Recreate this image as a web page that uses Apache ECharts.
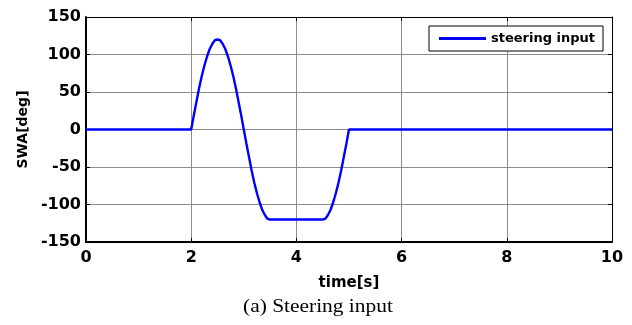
<!DOCTYPE html>
<html><head><meta charset="utf-8">
<script src="https://cdn.jsdelivr.net/npm/echarts@6/dist/echarts.min.js"></script>
<style>html,body{margin:0;padding:0;background:#fff}#c{width:632px;height:325px}</style>
</head><body><div id="c"></div>
<script>
var time = [0, 1, 2,
  2.05, 2.1, 2.15, 2.2, 2.25, 2.3, 2.35, 2.4, 2.45, 2.5,
  2.55, 2.6, 2.65, 2.7, 2.75, 2.8, 2.85, 2.9, 2.95, 3.0,
  3.05, 3.1, 3.15, 3.2, 3.25, 3.3, 3.35, 3.4, 3.45, 3.5,
  4.0, 4.5,
  4.55, 4.6, 4.65, 4.7, 4.75, 4.8, 4.85, 4.9, 4.95, 5.0,
  6, 8, 10];
var swa = [0, 0, 0,
  19, 37, 55, 71, 85, 97, 107, 114, 119, 120,
  119, 114, 107, 97, 85, 71, 55, 37, 19, 0,
  -19, -37, -55, -71, -85, -97, -107, -114, -119, -120,
  -120, -120,
  -119, -114, -107, -97, -85, -71, -55, -37, -19, 0,
  0, 0, 0];
var xTicks = [0, 2, 4, 6, 8, 10];
var yTicks = [-150, -100, -50, 0, 50, 100, 150];
var seriesName = 'steering input';
var xTitle = 'time[s]';
var yTitle = 'SWA[deg]';
var caption = '(a) Steering input';

var chart = echarts.init(document.getElementById('c'));
var fnt = '"DejaVu Sans", sans-serif';
function axis(extra) {
  return Object.assign({
    type: 'value',
    axisLine: {show: true, onZero: false, lineStyle: {color: '#000', width: 1}},
    axisTick: {show: true, inside: true, length: 4, lineStyle: {color: '#000'}},
    axisLabel: {show: false},
    splitLine: {show: false}
  }, extra);
}
var option = {
  animation: false,
  grid: {left: 86, right: 20, top: 17, bottom: 83, containLabel: false},
  legend: {
    data: [seriesName], left: 429, top: 26,
    backgroundColor: '#fff', borderColor: '#000', borderWidth: 1, borderRadius: 0,
    padding: [6, 8, 6, 10], itemWidth: 47, itemHeight: 3, icon: 'rect', itemGap: 5,
    textStyle: {fontFamily: fnt, fontWeight: 'bold', fontSize: 13, color: '#000'}
  },
  xAxis: [
    axis({
      min: 0, max: 10, interval: 2, position: 'bottom',
      axisLine: {show: true, onZero: false, lineStyle: {color: '#000', width: 2}},
      name: xTitle, nameLocation: 'middle', nameGap: 34,
      nameTextStyle: {fontFamily: fnt, fontWeight: 'bold', fontSize: 15, color: '#000'},
      axisLabel: {show: true, fontFamily: fnt, fontWeight: 'bold', fontSize: 16, color: '#000', margin: 8,
        formatter: function (v) { return xTicks.indexOf(v) >= 0 ? String(v) : ''; }},
      splitLine: {show: true, lineStyle: {color: '#8c8c8c', width: 1}}
    }),
    axis({min: 0, max: 10, interval: 2, position: 'top'})
  ],
  yAxis: [
    axis({
      min: -150, max: 150, interval: 50, position: 'left',
      axisLine: {show: true, onZero: false, lineStyle: {color: '#000', width: 2}},
      name: yTitle, nameLocation: 'middle', nameGap: 56,
      nameTextStyle: {fontFamily: fnt, fontWeight: 'bold', fontSize: 14, color: '#000'},
      axisLabel: {show: true, fontFamily: fnt, fontWeight: 'bold', fontSize: 16, color: '#000', margin: 5,
        formatter: function (v) { return yTicks.indexOf(v) >= 0 ? String(v) : ''; }},
      splitLine: {show: true, lineStyle: {color: '#8c8c8c', width: 1}}
    }),
    axis({min: -150, max: 150, interval: 50, position: 'right'})
  ],
  series: [{
    name: seriesName, type: 'line', showSymbol: false, smooth: false,
    lineStyle: {color: '#0000ff', width: 2.4}, itemStyle: {color: '#0000ff'},
    data: time.map(function (t, i) { return [t, swa[i]]; })
  }],
  graphic: [{
    type: 'text', x: 243, y: 298, scaleX: 1.19,
    style: {text: caption, font: '18px "Liberation Serif", "Times New Roman", serif', fill: '#000',
      textAlign: 'left', textVerticalAlign: 'top'}
  }]
};
chart.setOption(option);
</script>
</body></html>
